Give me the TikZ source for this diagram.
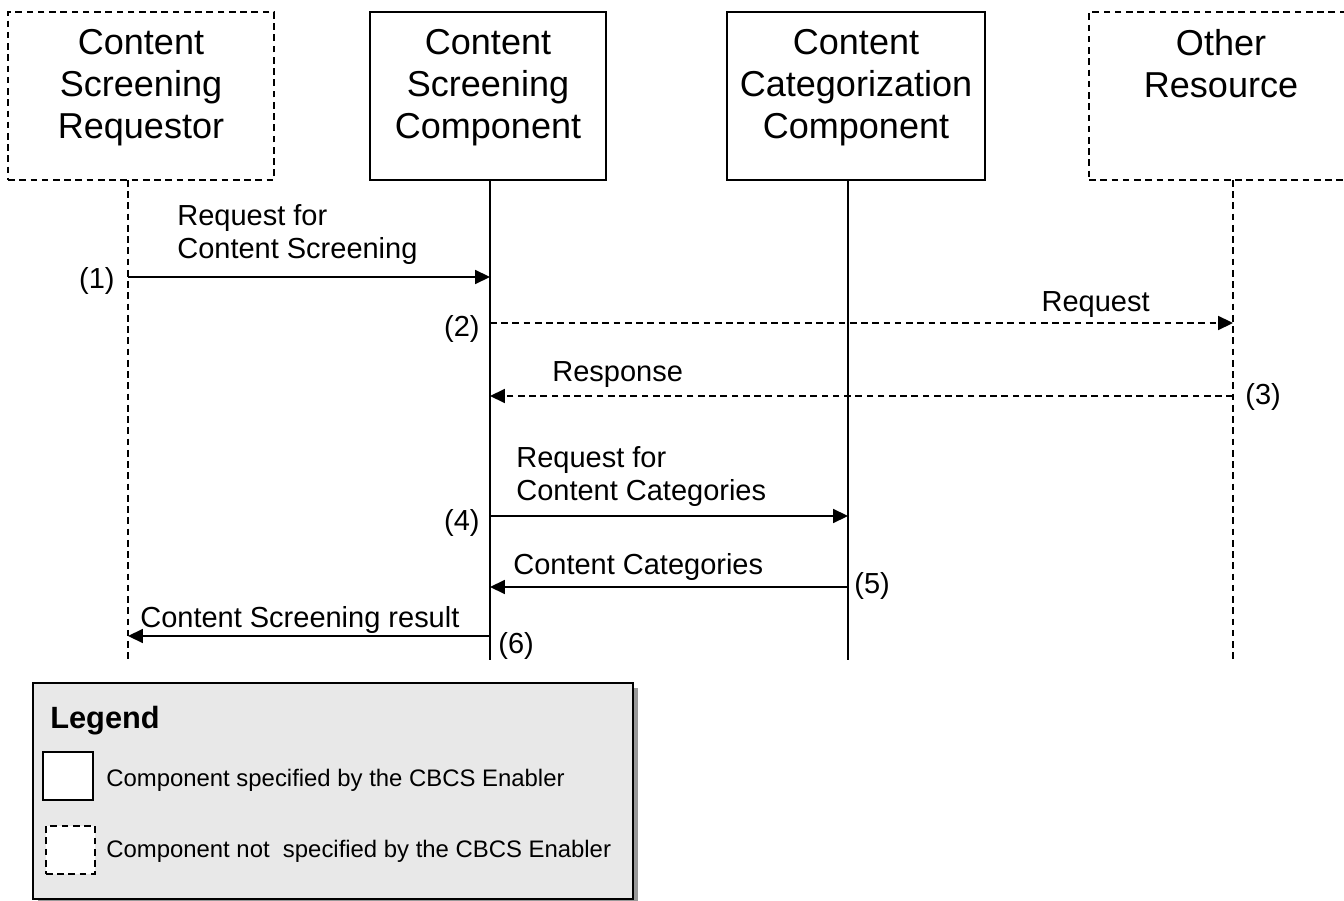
\documentclass[tikz,border=0pt]{standalone}
\usepackage{fontspec}
\setmainfont{Liberation Sans}
\usetikzlibrary{positioning,arrows.meta,shadows,calc}
\definecolor{legendgray}{RGB}{232,232,232}
\tikzset{
  comp/.style={draw,line width=1pt,minimum height=3.36cm,inner sep=0pt},
  extcomp/.style={comp,dash pattern=on 3.8pt off 2.6pt},
  boxtext/.style={font=\fontsize{20.5}{24}\selectfont,align=center,inner sep=0pt,anchor=north},
  msgtext/.style={font=\fontsize{16.5}{19}\selectfont,align=left,inner sep=0pt},
  legtext/.style={font=\fontsize{13.6}{16}\selectfont,inner sep=0pt,anchor=base west},
  lifeline/.style={line width=0.9pt},
  extline/.style={lifeline,dash pattern=on 3.8pt off 2.6pt},
  call/.style={line width=0.9pt,-{Triangle[length=8.5pt,width=8pt]}},
  dashcall/.style={call,dash pattern=on 3.8pt off 2.6pt}
}
\begin{document}
\begin{tikzpicture}[x=0.02cm,y=-0.02cm]
  \useasboundingbox (0,0) rectangle (1344,901);
  \node[extcomp,minimum width=5.32cm] (csr) at (141,96) {};
  \node[comp,minimum width=4.72cm] (csc) at (488,96) {};
  \node[comp,minimum width=5.16cm] (ccc) at (856,96) {};
  \node[extcomp,minimum width=5.28cm] (oth) at (1221,96) {};
  \node[boxtext] (csrname) at ($(csr.north)+(0,18)$) {Content\\Screening\\Requestor};
  \node[boxtext] (cscname) at ($(csc.north)+(0,18)$) {Content\\Screening\\Component};
  \node[boxtext] (cccname) at ($(ccc.north)+(0,18)$) {Content\\Categorization\\Component};
  \node[boxtext] (othname) at ($(oth.north)+(0,18)$) {Other\\Resource};

  \coordinate (l1) at (128,180); \coordinate (l1e) at (128,660);
  \coordinate (l2) at (490,180); \coordinate (l2e) at (490,660);
  \coordinate (l3) at (848,180); \coordinate (l3e) at (848,660);
  \coordinate (l4) at (1233,180); \coordinate (l4e) at (1233,660);
  \draw[extline] (l1)--(l1e);
  \draw[lifeline] (l2)--(l2e);
  \draw[lifeline] (l3)--(l3e);
  \draw[extline] (l4)--(l4e);

  \coordinate (m1) at (0,277);
  \coordinate (m2) at (0,323);
  \coordinate (m3) at (0,396);
  \coordinate (m4) at (0,516);
  \coordinate (m5) at (0,587);
  \coordinate (m6) at (0,636);
  \draw[call] (l1|-m1)--(l2|-m1);
  \draw[dashcall] (l2|-m2)--(l4|-m2);
  \draw[dashcall] (l4|-m3)--(l2|-m3);
  \draw[call] (l2|-m4)--(l3|-m4);
  \draw[call] (l3|-m5)--(l2|-m5);
  \draw[call] (l2|-m6)--(l1|-m6);

  \node[msgtext,anchor=north west] (req1) at (177,204) {Request for\\Content Screening};
  \node[msgtext,anchor=base east] (n1) at (115,289) {(1)};
  \node[msgtext,anchor=base east] (req2) at (1150,312) {Request};
  \node[msgtext,anchor=base east] (n2) at (480,337) {(2)};
  \node[msgtext,anchor=base west] (resp3) at (552,382) {Response};
  \node[msgtext,anchor=base west] (n3) at (1245,405) {(3)};
  \node[msgtext,anchor=north west] (req4) at (516,446) {Request for\\Content Categories};
  \node[msgtext,anchor=base east] (n4) at (480,530) {(4)};
  \node[msgtext,anchor=base west] (cat5) at (513,574) {Content Categories};
  \node[msgtext,anchor=base west] (n5) at (854,593) {(5)};
  \node[msgtext,anchor=base west] (res6) at (140,627) {Content Screening result};
  \node[msgtext,anchor=base west] (n6) at (498,653) {(6)};

  \node[draw,line width=0.8pt,fill=legendgray,minimum width=12cm,minimum height=4.32cm,
    drop shadow={shadow xshift=2.8pt,shadow yshift=-2.8pt,fill=black!40,opacity=1}] (legend) at (333,791) {};
  \node[font=\fontsize{17.5}{21}\bfseries\selectfont,anchor=base west,inner sep=0pt] (legtitle) at (50,728) {Legend};
  \node[draw,line width=0.9pt,fill=white,minimum width=1cm,minimum height=0.96cm,inner sep=0pt] (keyspec) at (68,776) {};
  \node[legtext] (keyspectext) at (106,786) {Component specified by the CBCS Enabler};
  \node[draw,line width=0.9pt,dash pattern=on 3.8pt off 2.6pt,fill=white,minimum width=0.98cm,minimum height=0.96cm,inner sep=0pt] (keynot) at (70.5,850) {};
  \node[legtext] (keynottext) at (106,857) {Component not\ \ specified by the CBCS Enabler};
\end{tikzpicture}
\end{document}
